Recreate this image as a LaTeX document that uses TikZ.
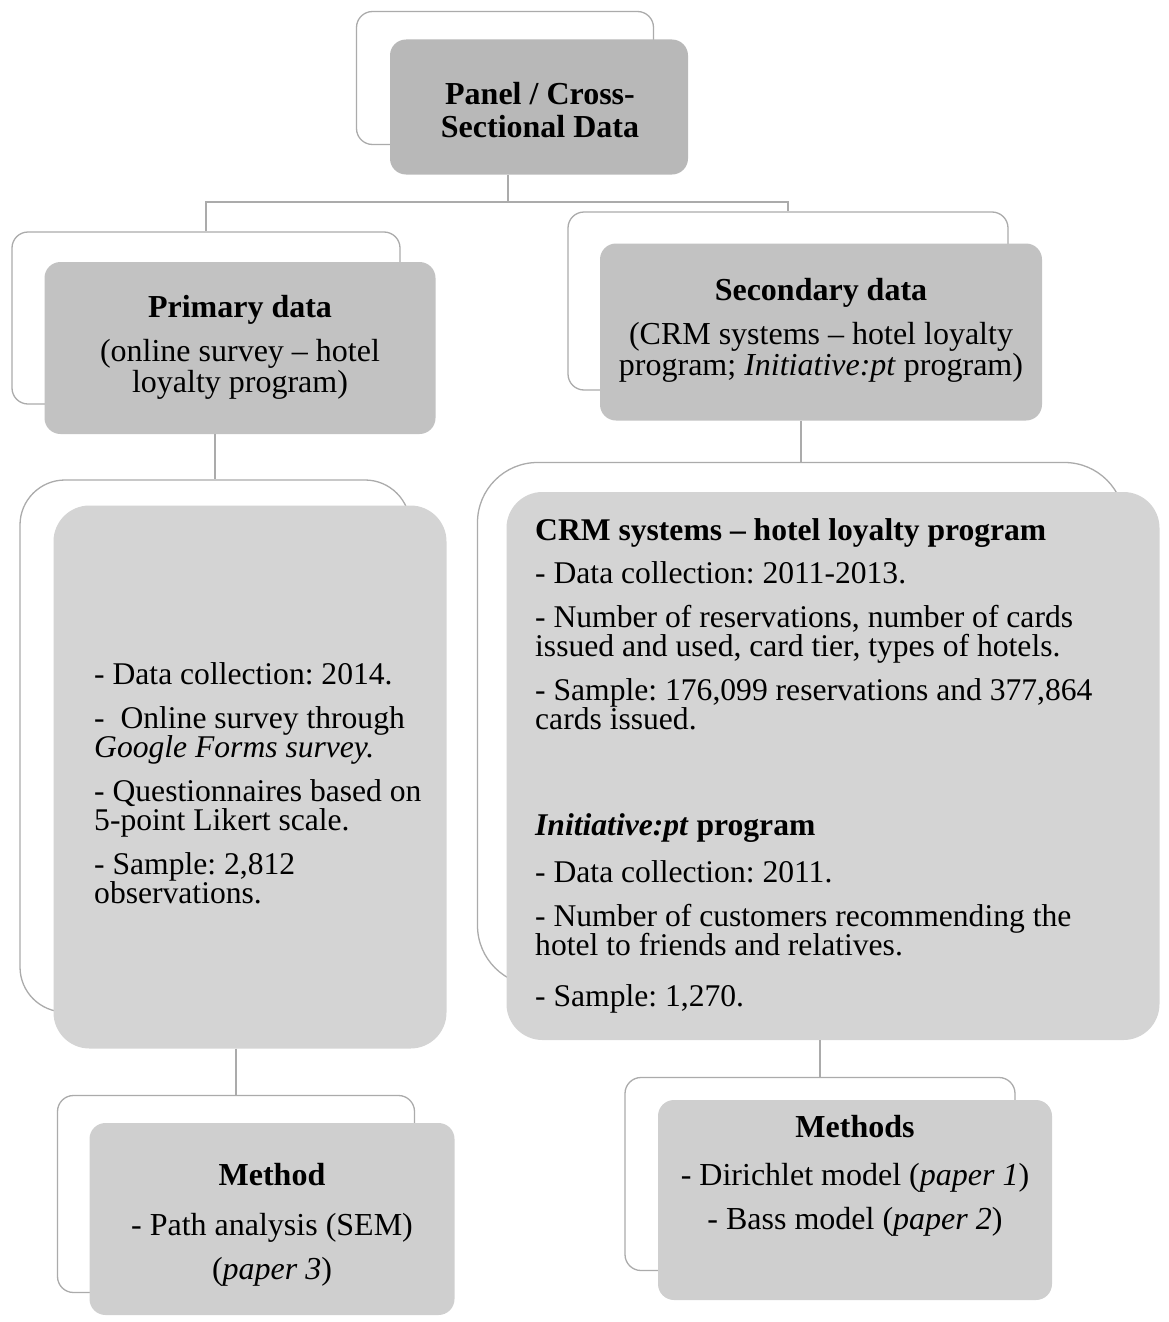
\documentclass[tikz,border=0pt]{standalone}
\usepackage{fontspec}
\setmainfont{Liberation Serif}
\usepackage{tikz}
\usetikzlibrary{positioning}

\newcommand{\tightlines}{\lineskiplimit=-30pt\relax\frenchspacing}

\tikzset{
  frame/.style={draw=black!33, line width=1.3pt, fill=white, rounded corners=16pt, inner sep=0pt},
  shade/.style={fill=black!22, rounded corners=16pt, inner sep=0pt},
  txt/.style={align=center, inner sep=0pt, font=\fontsize{32}{31}\selectfont\tightlines},
  bodytxt/.style={align=left, inner sep=0pt, font=\fontsize{31.6}{29}\selectfont\tightlines},
  conn/.style={draw=black!33, line width=1.3pt}
}

\begin{document}
\begin{tikzpicture}[x=1pt,y=-1pt]
\useasboundingbox (0,0) rectangle (1168,1322);

% top level
\node[frame, minimum width=297pt, minimum height=133pt] (panelf) at (505,78) {};
\node[shade, fill=black!28, minimum width=298pt, minimum height=135pt] (panel) at (539,107) {};
\node[txt, font=\fontsize{32}{33}\selectfont\bfseries\tightlines] (paneltxt) at (540,110) {Panel / Cross-\\Sectional Data};

% second level
\node[frame, minimum width=388pt, minimum height=172pt] (primf) at (206,318) {};
\node[shade, fill=black!24, minimum width=391pt, minimum height=172pt] (prim) at (240,348) {};
\node[txt] (primtxt) at (240,347) {\textbf{Primary data}\\[13pt](online survey – hotel\\loyalty program)};

\node[frame, minimum width=440pt, minimum height=178pt] (secf) at (788,301) {};
\node[shade, fill=black!24, minimum width=442pt, minimum height=177pt] (sec) at (821,332) {};
\node[txt] (sectxt) at (821,330) {\textbf{Secondary data}\\[13pt](CRM systems – hotel loyalty\\program; \textit{Initiative:pt} program)};

% third level
\node[frame, rounded corners=45pt, minimum width=390pt, minimum height=532pt] (primdf) at (215,746) {};
\node[shade, fill=black!17, rounded corners=36pt, minimum width=393pt, minimum height=543pt] (primd) at (250,777) {};
\node[bodytxt, anchor=west] (primdtxt) at (94,783) {- Data collection: 2014.\\[15pt]
-~ Online survey through\\\textit{Google Forms survey.}\\[15pt]
- Questionnaires based on\\5-point Likert scale.\\[15pt]
- Sample: 2,812\\observations.};

\node[frame, rounded corners=60pt, minimum width=647pt, minimum height=523pt] (secdf) at (801,724) {};
\node[shade, fill=black!17, rounded corners=36pt, minimum width=653pt, minimum height=548pt] (secd) at (833,766) {};
\node[bodytxt, anchor=west] (secdtxt) at (535,766) {\textbf{CRM systems – hotel loyalty program}\\[14pt]
- Data collection: 2011-2013.\\[15pt]
- Number of reservations, number of cards\\issued and used, card tier, types of hotels.\\[15pt]
- Sample: 176,099 reservations and 377,864\\cards issued.\\[77pt]
\textbf{\textit{Initiative:pt} program}\\[18pt]
- Data collection: 2011.\\[15pt]
- Number of customers recommending the\\hotel to friends and relatives.\\[22pt]
- Sample: 1,270.};

% fourth level
\node[frame, minimum width=357pt, minimum height=197pt] (methf) at (236,1194) {};
\node[shade, fill=black!19, minimum width=365pt, minimum height=192pt] (meth) at (272,1219) {};
\node[txt, font=\fontsize{32}{29}\selectfont\tightlines] (methtxt) at (272,1225) {\textbf{Method}\\[21pt]- Path analysis (SEM)\\[15pt](\textit{paper 3})};

\node[frame, minimum width=390pt, minimum height=193pt] (methsf) at (820,1174) {};
\node[shade, fill=black!19, minimum width=394pt, minimum height=200pt] (meths) at (855,1200) {};
\node[txt, font=\fontsize{32}{29}\selectfont\tightlines] (methstxt) at (855,1176) {\textbf{Methods}\\[19pt]- Dirichlet model (\textit{paper 1})\\[15pt]- Bass model (\textit{paper 2})};

% connectors
\coordinate (split) at (508,202);
\draw[conn] (panel.south -| split) -- (split);
\draw[conn] (primf.north) |- (split) -| (secf.north);
\draw[conn] (prim.south -| primdf.north) -- (primdf.north);
\draw[conn] (sec.south -| secdf.north) -- (secdf.north);
\draw[conn] (primd.south -| methf.north) -- (methf.north);
\draw[conn] (secd.south -| methsf.north) -- (methsf.north);
\end{tikzpicture}
\end{document}
